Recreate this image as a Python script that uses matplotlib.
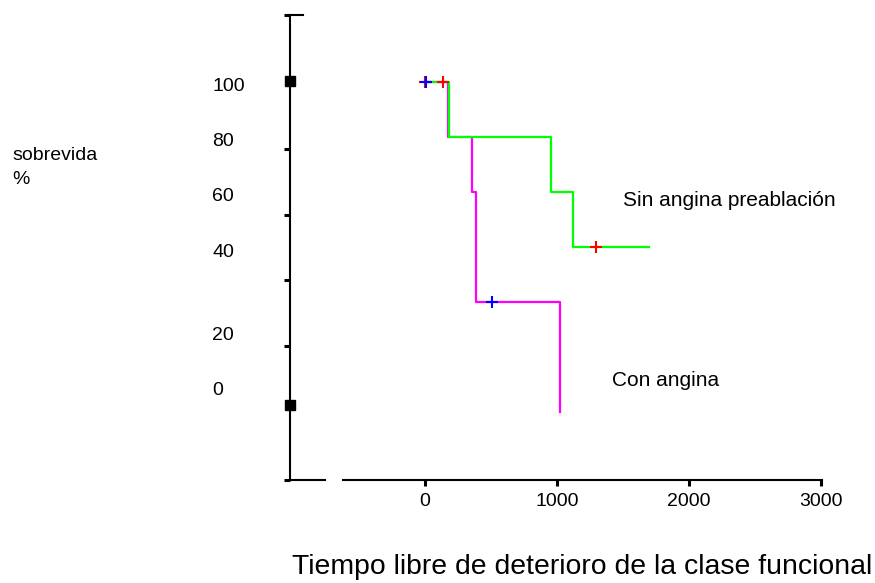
import numpy as np
import matplotlib
matplotlib.use('Agg')
import matplotlib.pyplot as plt

plt.rcParams['font.family'] = ['Liberation Sans', 'DejaVu Sans']

# Kaplan-Meier curves (time, survival %)
sin_angina_t = [0, 182, 956, 1123, 1700]
sin_angina_s = [100, 80, 60, 40, 40]
con_angina_t = [0, 175, 357, 387, 1024]
con_angina_s = [100, 80, 60, 20, -20]

# censored observations
sin_cens_t = [0, 137, 1297]
sin_cens_s = [100, 100, 40]
con_cens_t = [5, 508]
con_cens_s = [100, 20]

x_ticks = [0, 1000, 2000, 3000]
y_tick_labels = ['100', '80', '60', '40', '20', '0']

# layout of the (odd) vertical axis: label heights and tick marks don't line up
y_label_pos = [99.3, 79, 59.3, 38.9, 8.7, -11.6]
y_mark_pos = [124.4, 75.6, 51.6, 28.0, 4.0, -44.7]
y_square_pos = [100.4, -17.5]
ylim = (-44.7, 124.4)
xlim = (-1023, 3008)

fig = plt.figure(figsize=(8.75, 5.83), dpi=100)
ax = fig.add_axes([290 / 875, 1 - 480 / 583, 532 / 875, 465 / 583])
ax.set_xlim(*xlim)
ax.set_ylim(*ylim)

ax.step(con_angina_t, con_angina_s, where='post', color='#ff00ff', lw=1.6)
ax.step(sin_angina_t, sin_angina_s, where='post', color='#00ff00', lw=1.6)
ax.plot(sin_cens_t, sin_cens_s, '+', color='#ff0000', ms=9, mew=1.5)
ax.plot(con_cens_t, con_cens_s, '+', color='#0000ff', ms=9, mew=1.5)

# spines
for s in ['top', 'right']:
    ax.spines[s].set_visible(False)
ax.spines['left'].set_linewidth(1.5)
ax.spines['bottom'].set_linewidth(1.5)
ax.spines['bottom'].set_bounds(-622, xlim[1])
ax.axhline(ylim[0], xmin=0, xmax=35 / 532, color='black', lw=1.5, clip_on=False)
ax.axhline(ylim[1], xmin=0, xmax=13 / 532, color='black', lw=1.5, clip_on=False)

# x axis ticks
ax.set_xticks(x_ticks)
ax.set_xticklabels([str(v) for v in x_ticks])
ax.tick_params(axis='x', direction='out', length=4, width=2.2, pad=5, labelsize=14)

# y axis: labels as zero-length major ticks, marks as minor ticks
ax.set_yticks(y_label_pos)
ax.set_yticklabels(y_tick_labels, ha='left')
ax.set_yticks(y_mark_pos, minor=True)
ax.tick_params(axis='y', which='major', length=0, pad=56, labelsize=14)
ax.tick_params(axis='y', which='minor', direction='out', length=4.5, width=2.2)
ax.plot([xlim[0]] * len(y_square_pos), y_square_pos, 's', color='black', ms=6.5, clip_on=False)

ax.set_xlabel('Tiempo libre de deterioro de la clase funcional', fontsize=20.4, ha='left', va='baseline')
ax.xaxis.set_label_coords(2 / 532, (480 - 574) / 465)

ax.text(1500, 55, 'Sin angina preablación', fontsize=15, va='baseline')
ax.text(1417, -10.5, 'Con angina', fontsize=15, va='baseline')

fig.text(12 / 875, 1 - 147 / 583, 'sobrevida\n%', fontsize=14, va='top', ha='left', linespacing=1.55)

fig.savefig('out.png', dpi=100)
